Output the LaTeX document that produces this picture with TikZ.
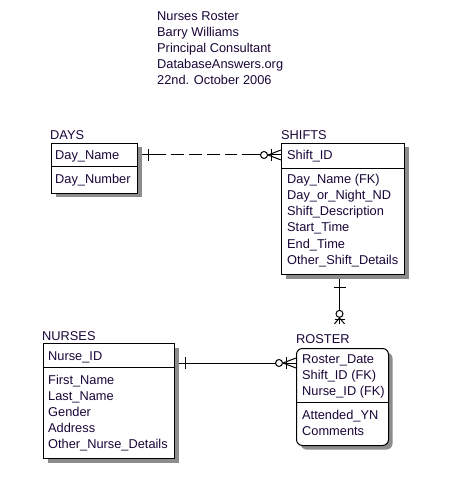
\documentclass[tikz,border=0pt]{standalone}
\usepackage{fontspec}
\setmainfont{Liberation Sans}
\usetikzlibrary{shadows,backgrounds,calc}
\definecolor{ertext}{RGB}{24,6,56}

\begin{document}
\begin{tikzpicture}[x=1pt,y=-1pt,
    every node/.style={font=\fontsize{12.8}{16}\selectfont, text=ertext, inner sep=0pt},
    entity/.style={draw, line width=1pt, fill=white, anchor=north west,
        drop shadow={shadow xshift=4pt, shadow yshift=-4pt, fill=black!45, opacity=1}},
    attr/.style={anchor=base west},
    sepline/.style={line width=1pt},
    rel/.style={line width=1pt}]
    \useasboundingbox (0,0) rectangle (472,502);

    % Header
    \foreach \txt [count=\i] in {Nurses Roster, Barry Williams, Principal Consultant,
        DatabaseAnswers.org, 22nd. October 2006}
        \node[attr] (head\i) at (157,5+16*\i) {\txt};

    % Days
    \node[entity, minimum width=86pt, minimum height=50pt] (days) at (51,143) {};
    \node[attr] (daysname) at (50,140) {DAYS};
    \node[attr] (dayskey) at (55,159.5) {Day\_Name};
    \node[attr] (daysattr0) at (55,184) {Day\_Number};
    \coordinate (dayssep) at (0,167);
    \draw[sepline] (days.west |- dayssep) -- (days.east |- dayssep);

    % Shifts
    \node[entity, minimum width=123pt, minimum height=131pt] (shifts) at (281,143) {};
    \node[attr] (shiftsname) at (281,140) {SHIFTS};
    \node[attr] (shiftskey) at (287,159.5) {Shift\_ID};
    \foreach \txt [count=\i from 0] in {Day\_Name (FK), Day\_or\_Night\_ND, Shift\_Description,
        Start\_Time, End\_Time, Other\_Shift\_Details}
        \node[attr] (shiftsattr\i) at (287,184+16*\i) {\txt};
    \coordinate (shiftssep) at (0,169);
    \draw[sepline] (shifts.west |- shiftssep) -- (shifts.east |- shiftssep);

    % Nurses
    \node[entity, minimum width=131pt, minimum height=115pt] (nurses) at (43,343) {};
    \node[attr] (nursesname) at (42,340) {NURSES};
    \node[attr] (nurseskey) at (48,360) {Nurse\_ID};
    \foreach \txt [count=\i from 0] in {First\_Name, Last\_Name, Gender, Address,
        Other\_Nurse\_Details}
        \node[attr] (nursesattr\i) at (48,384+16*\i) {\txt};
    \coordinate (nursessep) at (0,367);
    \draw[sepline] (nurses.west |- nursessep) -- (nurses.east |- nursessep);

    % Roster
    \node[entity, rounded corners=6pt, minimum width=92pt, minimum height=97pt] (roster) at (296,348) {};
    \node[attr] (rostername) at (296,343) {ROSTER};
    \foreach \txt [count=\i from 0] in {Roster\_Date, Shift\_ID (FK), Nurse\_ID (FK)}
        \node[attr] (rosterkey\i) at (302,363+16*\i) {\txt};
    \foreach \txt [count=\i from 0] in {Attended\_YN, Comments}
        \node[attr] (rosterattr\i) at (302,419+16*\i) {\txt};
    \coordinate (rostersep) at (0,402);
    \draw[sepline] (roster.west |- rostersep) -- (roster.east |- rostersep);

    % Relationships
    \begin{scope}[on background layer]
        % Days - Shifts
        \coordinate (dsrow) at (0,155);
        \coordinate (dsa) at (dsrow -| days.east);
        \coordinate (dsb) at (dsrow -| shifts.west);
        \draw[rel] (dsa) -- ([xshift=28pt]dsa);
        \draw[rel, dash pattern=on 13pt off 5pt] ([xshift=33pt]dsa) -- ([xshift=-44pt]dsb);
        \draw[rel] ([xshift=-39pt]dsb) -- ([xshift=-20.5pt]dsb);
        \draw[rel] ([xshift=10pt,yshift=6pt]dsa) -- ([xshift=10pt,yshift=-6pt]dsa);
        \draw[rel] ([xshift=-17pt]dsb) circle (3.5pt);
        \draw[rel] ([xshift=-13.5pt]dsb) -- (dsb);
        \draw[rel] ([xshift=-13pt]dsb) -- ([yshift=5pt]dsb) ([xshift=-13pt]dsb) -- ([yshift=-5pt]dsb);
        \draw[rel] ([xshift=-10pt,yshift=6pt]dsb) -- ([xshift=-10pt,yshift=-6pt]dsb);

        % Shifts - Roster
        \coordinate (sra) at ([xshift=-3.5pt]shifts.south);
        \coordinate (srb) at ([yshift=10pt]sra |- rostername.north);
        \draw[rel] (sra) -- ([yshift=13.5pt]srb);
        \draw[rel] ([xshift=-6pt,yshift=-12pt]sra) -- ([xshift=6pt,yshift=-12pt]sra);
        \draw[rel] ([yshift=10pt]srb) circle (3.5pt);
        \draw[rel] ([yshift=6.5pt]srb) -- (srb);
        \draw[rel] ([yshift=6pt]srb) -- ([xshift=-5pt]srb) ([yshift=6pt]srb) -- ([xshift=5pt]srb);
        \draw[rel] ([xshift=-5pt,yshift=4pt]srb) -- ([xshift=5pt,yshift=4pt]srb);

        % Nurses - Roster
        \coordinate (nrrow) at (0,363);
        \coordinate (nra) at (nrrow -| nurses.east);
        \coordinate (nrb) at (nrrow -| roster.west);
        \draw[rel] (nra) -- ([xshift=-20.5pt]nrb);
        \draw[rel] ([xshift=10pt,yshift=6pt]nra) -- ([xshift=10pt,yshift=-6pt]nra);
        \draw[rel] ([xshift=-17pt]nrb) circle (3.5pt);
        \draw[rel] ([xshift=-13.5pt]nrb) -- (nrb);
        \draw[rel] ([xshift=-13pt]nrb) -- ([yshift=5pt]nrb) ([xshift=-13pt]nrb) -- ([yshift=-5pt]nrb);
        \draw[rel] ([xshift=-10pt,yshift=6pt]nrb) -- ([xshift=-10pt,yshift=-6pt]nrb);
    \end{scope}
\end{tikzpicture}
\end{document}
